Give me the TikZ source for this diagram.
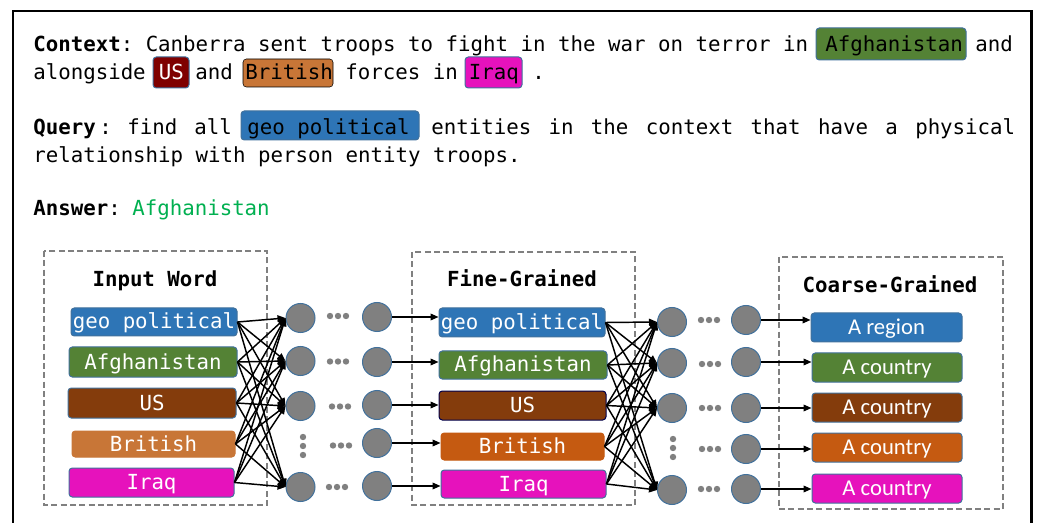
\documentclass[tikz,border=0pt]{standalone}
\usepackage{fontspec}
\setmonofont{DejaVu Sans Mono}
\newfontfamily\carl{Carlito}
\usetikzlibrary{arrows.meta}
\definecolor{cblue}{HTML}{2E75B6}
\definecolor{cgreen}{HTML}{548235}
\definecolor{cbrown}{HTML}{843C0C}
\definecolor{cdred}{HTML}{7F0000}
\definecolor{corl}{HTML}{C87637}
\definecolor{corange}{HTML}{C55A11}
\definecolor{cmag}{HTML}{E612BC}
\definecolor{cgray}{HTML}{808080}
\definecolor{cborder}{HTML}{41719C}
\definecolor{cans}{HTML}{00B050}
\newcommand\mono{\ttfamily\fontsize{15.57}{18}\selectfont}
\newcommand\bx[8]{\node[#1, fill=#7, minimum width=#5*0.75pt, minimum height=#6*0.75pt] (#2) at (#3,#4) {#8};}
\begin{document}
\begin{tikzpicture}[x=0.75pt,y=-0.75pt,
  txt/.style={anchor=base west, inner sep=0pt, font=\mono},
  hdr/.style={anchor=base, inner sep=0pt, font=\mono\bfseries},
  hl/.style={rounded corners=2.5pt, line width=0.75pt, draw=cborder},
  wbox/.style={rounded corners=2.5pt, draw=cborder, line width=0.75pt, inner sep=0pt, text=white, font=\mono, text height=10.5pt, text depth=0pt},
  cbox/.style={wbox, font=\carl\fontsize{17}{20}\selectfont},
  neuron/.style={circle, fill=cgray, draw=cborder, line width=0.75pt, minimum size=21.75pt, inner sep=0pt},
  group/.style={draw=cgray, dash pattern=on 4.5pt off 2.5pt, line width=1.6pt},
  arr/.style={-{Triangle[length=6pt,width=5pt]}, line width=1.1pt}]
\useasboundingbox (0,0) rectangle (1037,523);
\fill[white] (0,0) rectangle (1037,523);
% frame
\draw[line width=2pt] (13,523) -- (13,11) -- (1031.5,11) -- (1031.5,523);

% ---- text part ----
\node[txt] (l1a) at (33,52) {\textbf{Context}: Canberra sent troops to fight in the war on terror in};
\draw[hl, fill=cgreen] (816,28) rectangle (966,60);
\node[txt] (l1b) at (825,52) {Afghanistan};
\node[txt] (l1c) at (975,52) {and};

\node[txt] (l2a) at (33,80) {alongside};
\draw[hl, fill=cdred] (153,57) rectangle (189,88);
\node[txt, text=white] (l2b) at (158.5,80) {US};
\node[txt] (l2c) at (195,80) {and};
\draw[rounded corners=2.5pt, fill=corl] (243,59) rectangle (333,87);
\node[txt] (l2d) at (245,80) {British};
\node[txt] (l2e) at (345,80) {forces in};
\draw[hl, fill=cmag] (465,57) rectangle (522,88);
\node[txt] (l2f) at (468.5,80) {Iraq};
\node[txt] (l2g) at (532,80) {.};

\node[txt] (l3a) at (33,135) {\textbf{Query}};
\node[txt] (l3b) at (99,135) {:};
\node[txt] (l3c) at (127,135) {find};
\node[txt] (l3d) at (194,135) {all};
\draw[hl, fill=cblue] (241,111) rectangle (419,140);
\node[txt] (l3e) at (247,135) {geo political};
\node[txt] (l3f) at (431,135) {\makebox[438pt][l]{entities\hfill in\hfill the\hfill context\hfill that\hfill have\hfill a\hfill physical}};

\node[txt] (l4) at (33,163) {relationship with person entity troops.};
\node[txt] (l5a) at (33,216) {\textbf{Answer}:};
\node[txt, text=cans] (l5b) at (132,216) {Afghanistan};

% ---- groups ----
\draw[group] (44,251) rectangle (267,505);
\draw[group] (412,252) rectangle (635,505);
\draw[group] (779,257) rectangle (1003,509);
\node[hdr] (h1) at (155,287) {Input Word};
\node[hdr] (h2) at (522,287) {Fine-Grained};
\node[hdr] (h3) at (890,293) {Coarse-Grained};

% input boxes
\bx{wbox}{i1}{154}{322}{166}{28}{cblue}{geo political}
\bx{wbox}{i2}{153}{362}{168}{30}{cgreen}{Afghanistan}
\bx{wbox}{i3}{152}{403}{168}{30}{cbrown}{US}
\bx{wbox, draw=corl}{i4}{153.5}{444}{163}{26}{corl}{British}
\bx{wbox}{i5}{151.5}{482.5}{165}{29}{cmag}{Iraq}

% fine boxes
\bx{wbox}{f1}{522}{322.5}{166}{29}{cblue}{geo political}
\bx{wbox}{f2}{523}{365}{168}{28}{cgreen}{Afghanistan}
\bx{wbox, draw=black!70!blue}{f3}{522.5}{405.5}{167}{29}{cbrown}{US}
\bx{wbox, draw=corange}{f4}{522.5}{446.5}{163}{27}{corange}{British}
\bx{wbox}{f5}{523.5}{484}{165}{28}{cmag}{Iraq}

% coarse boxes
\bx{cbox}{k1}{886.5}{327.5}{151}{29}{cblue}{A region}
\bx{cbox}{k2}{887}{367.5}{150}{29}{cgreen}{A country}
\bx{cbox}{k3}{887}{407.5}{150}{29}{cbrown}{A country}
\bx{cbox}{k4}{887}{447.5}{150}{29}{corange}{A country}
\bx{cbox}{k5}{887}{488.5}{150}{29}{cmag}{A country}

% neurons
\node[neuron] (a1) at (300.5,318) {};
\node[neuron] (a2) at (300.5,361) {};
\node[neuron] (a3) at (300.5,406) {};
\node[neuron] (a5) at (300.5,487) {};
\node[neuron] (b1) at (377,317) {};
\node[neuron] (b2) at (377,362) {};
\node[neuron] (b3) at (377,405) {};
\node[neuron] (b4) at (377,443) {};
\node[neuron] (b5) at (377,486) {};
\node[neuron] (c1) at (672,322) {};
\node[neuron] (c2) at (672,363) {};
\node[neuron] (c3) at (672,408) {};
\node[neuron] (c5) at (672,490) {};
\node[neuron] (d1) at (746,320) {};
\node[neuron] (d2) at (746,362) {};
\node[neuron] (d3) at (746,408) {};
\node[neuron] (d4) at (746,449) {};
\node[neuron] (d5) at (746,489) {};

% dots
\foreach \x/\y in {338/316, 338/361.5, 340/406.5, 341/445.5, 337/487,
                   709/320, 710/364, 710/408, 710/449, 709/489}{
  \foreach \d in {-8,0,8} \fill[cgray] (\x+\d,\y) circle (2.4pt);
}
\foreach \x/\y in {303/446, 673/448}{
  \foreach \d in {-9,0,9} \fill[cgray] (\x,\y+\d) circle (2.4pt);
}

% connections
\foreach \s in {i1,i2,i3,i4,i5}
  \foreach \t in {a1,a2,a3,a5}
    \draw[arr] (\s.east) -- (\t.west);
\foreach \s in {f1,f2,f3,f4,f5}
  \foreach \t in {c1,c2,c3,c5}
    \draw[arr] (\s.east) -- (\t.west);
\foreach \i in {1,...,5}{
  \draw[arr] (b\i.east) -- (b\i -| f\i.west);
  \draw[arr] (d\i.east) -- (d\i -| k\i.west);
}
\end{tikzpicture}
\end{document}
